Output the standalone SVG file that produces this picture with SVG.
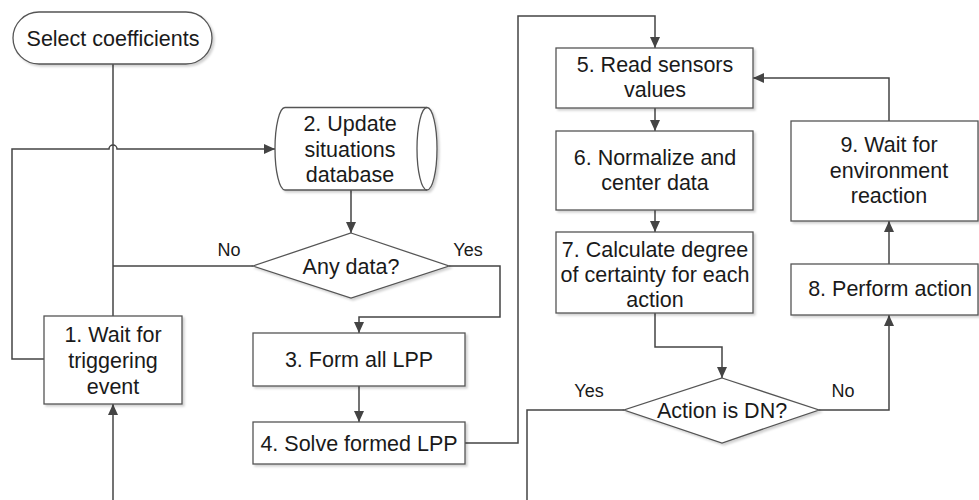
<svg xmlns="http://www.w3.org/2000/svg" width="979" height="500" viewBox="0 0 979 500">
<style>
.n{fill:#fff;stroke:#555;stroke-width:1.3;filter:url(#sh)}
.t{font-family:"Liberation Sans",Arial,sans-serif;font-size:21.5px;fill:#1a1a1a;text-anchor:middle}
.l{font-family:"Liberation Sans",Arial,sans-serif;font-size:18px;fill:#1a1a1a;text-anchor:middle}
.c{fill:none;stroke:#444;stroke-width:1.5}
.a{marker-end:url(#ar)}
</style>
<defs>
<filter id="sh" x="-10%" y="-10%" width="130%" height="130%">
<feDropShadow dx="2" dy="2" stdDeviation="1" flood-color="#000" flood-opacity="0.18"/>
</filter>
<marker id="ar" markerUnits="userSpaceOnUse" markerWidth="12" markerHeight="10" refX="11" refY="5" orient="auto">
<path d="M0,0 L11,5 L0,10 Z" fill="#444"/>
</marker>
</defs>
<g id="connectors">
<path class="c" d="M113,64 V316"/>
<path class="c a" d="M44,359 H12 V149 H109 A4,4 0 0 1 117,149 H275"/>
<path class="c" d="M253,266 H113"/>
<path class="c a" d="M351,190 V233"/>
<path class="c a" d="M449,266 H500 V317 H359 V333"/>
<path class="c a" d="M359,386 V422"/>
<path class="c a" d="M465,443 H518 V16 H655 V48"/>
<path class="c a" d="M655,108 V131"/>
<path class="c a" d="M655,210 V232"/>
<path class="c a" d="M655,313 V347 H722 V378"/>
<path class="c" d="M624,410 H527 V500"/>
<path class="c a" d="M819,410 H889 V315"/>
<path class="c a" d="M889,264 V221"/>
<path class="c a" d="M889,121 V78 H753"/>
<path class="c a" d="M113,500 V404"/>
<text class="l" x="229" y="256">No</text>
<text class="l" x="468" y="256">Yes</text>
<text class="l" x="589" y="397">Yes</text>
<text class="l" x="843" y="397">No</text>
</g>
<g id="start">
<rect class="n" x="13" y="12" width="199" height="52" rx="26"/>
<text class="t" x="113" y="46">Select coefficients</text>
</g>
<g id="n1">
<rect class="n" x="44" y="316" width="138" height="88"/>
<text class="t" x="113" y="342">1. Wait for</text>
<text class="t" x="113" y="368">triggering</text>
<text class="t" x="113" y="394">event</text>
</g>
<g id="n2">
<path class="n" d="M285,107.5 H427 A10,41.25 0 0 1 427,190 H285 A10,41.25 0 0 1 285,107.5 Z"/>
<path fill="none" stroke="#555" stroke-width="1.3" d="M427,107.5 A10,41.25 0 0 0 427,190"/>
<text class="t" x="350" y="131">2. Update</text>
<text class="t" x="350" y="157">situations</text>
<text class="t" x="350" y="182">database</text>
</g>
<g id="d1">
<path class="n" d="M351,233 L449,266 L351,298 L253,266 Z"/>
<text class="t" x="351" y="274">Any data?</text>
</g>
<g id="n3">
<rect class="n" x="253" y="333" width="212" height="53"/>
<text class="t" x="359" y="367">3. Form all LPP</text>
</g>
<g id="n4">
<rect class="n" x="253" y="422" width="212" height="42"/>
<text class="t" x="359" y="451">4. Solve formed LPP</text>
</g>
<g id="n5">
<rect class="n" x="556" y="48" width="197" height="60"/>
<text class="t" x="655" y="72">5. Read sensors</text>
<text class="t" x="655" y="97">values</text>
</g>
<g id="n6">
<rect class="n" x="556" y="131" width="197" height="79"/>
<text class="t" x="655" y="165">6. Normalize and</text>
<text class="t" x="655" y="190">center data</text>
</g>
<g id="n7">
<rect class="n" x="556" y="232" width="197" height="81"/>
<text class="t" x="655" y="257">7. Calculate degree</text>
<text class="t" x="655" y="282">of certainty for each</text>
<text class="t" x="655" y="307">action</text>
</g>
<g id="d2">
<path class="n" d="M722,378 L819,410 L722,443 L624,410 Z"/>
<text class="t" x="722" y="418">Action is DN?</text>
</g>
<g id="n8">
<rect class="n" x="791" y="264" width="187" height="51"/>
<text class="t" x="890" y="296">8. Perform action</text>
</g>
<g id="n9">
<rect class="n" x="791" y="121" width="187" height="100"/>
<text class="t" x="889" y="152">9. Wait for</text>
<text class="t" x="889" y="178">environment</text>
<text class="t" x="889" y="203">reaction</text>
</g>
</svg>
